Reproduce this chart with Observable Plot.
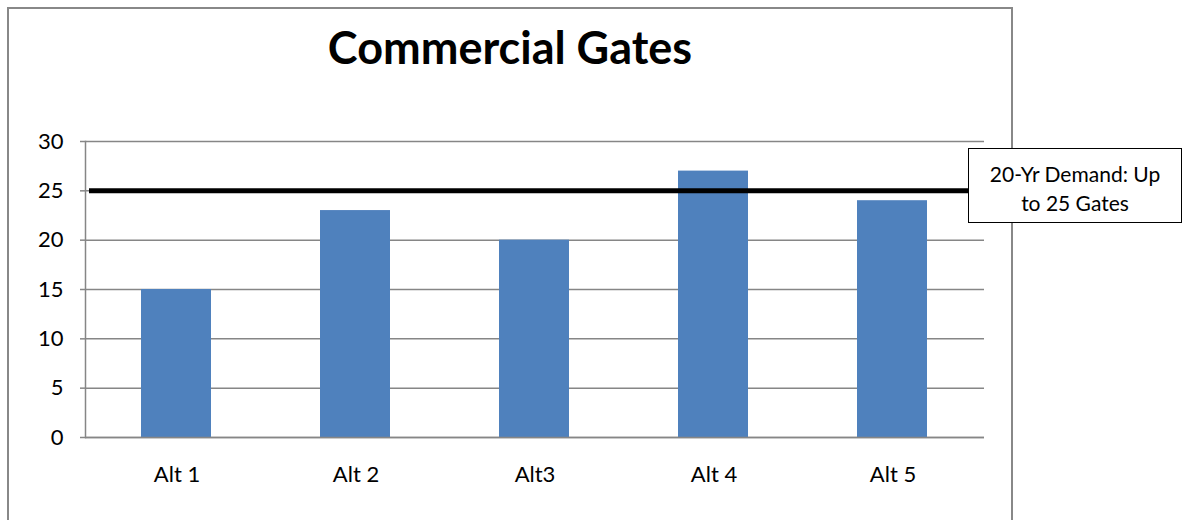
<!DOCTYPE html>
<html>
<head>
<meta charset="utf-8">
<script src="https://cdn.jsdelivr.net/npm/d3@7"></script>
<script src="https://cdn.jsdelivr.net/npm/@observablehq/plot@0.6"></script>
<style>
  html, body { margin: 0; padding: 0; background: #fff; }
  #wrap { position: relative; width: 1184px; height: 520px; overflow: hidden; font-family: Lato, "Open Sans", sans-serif; }
  #border { position: absolute; left: 7px; top: 7px; width: 1006px; height: 600px; border: 2px solid #888; box-sizing: border-box; pointer-events: none; }
  #title { position: absolute; left: 8px; width: 1004px; top: 25px; text-align: center; font-weight: bold; font-size: 45px; line-height: 45px; color: #000; }
  #chart { position: absolute; left: 0; top: 100px; }
  #note { position: absolute; left: 968px; top: 148px; width: 214px; height: 75px; box-sizing: border-box; border: 1.5px solid #000; background: #fff; display: flex; align-items: center; justify-content: center; text-align: center; font-size: 21px; line-height: 29px; color: #000; padding-top: 4px; }
</style>
</head>
<body>
<div id="wrap">
  <div id="title"></div>
  <div id="chart"></div>
  <div id="border"></div>
  <div id="note"></div>
</div>
<script>
const titleText = "Commercial Gates";
const categories = ["Alt 1", "Alt 2", "Alt3", "Alt 4", "Alt 5"];
const gates = [15, 23, 20, 27, 24];
const yTicks = [0, 5, 10, 15, 20, 25, 30];
const demandValue = 25;
const noteLines = ["20-Yr Demand: Up", "to 25 Gates"];

const data = categories.map((c, i) => ({alt: c, gates: gates[i]}));

document.getElementById("title").textContent = titleText;
document.getElementById("note").innerHTML = noteLines.join("<br>");

const chart = Plot.plot({
  width: 1184,
  height: 420,
  marginLeft: 85,
  marginRight: 200,
  marginTop: 41,
  marginBottom: 83,
  style: {background: "transparent", fontFamily: "Lato, 'Open Sans', sans-serif", fontSize: "22px", color: "#000", overflow: "visible"},
  x: {domain: categories, padding: 0, label: null},
  y: {domain: [0, 30], label: null},
  marks: [
    Plot.gridY(yTicks, {stroke: "#868686", strokeOpacity: 1, strokeWidth: 1.5}),
    Plot.barY(data, {x: "alt", y: "gates", fill: "#4F81BD", insetLeft: 54, insetRight: 55}),
    Plot.ruleY([0], {stroke: "#868686", strokeWidth: 1.5}),
    Plot.ruleY([demandValue], {stroke: "#000", strokeWidth: 5, insetLeft: 4, insetRight: 16}),
    Plot.frame({anchor: "left", stroke: "#868686", strokeWidth: 1.5}),
    Plot.axisY(yTicks, {tickSize: 5, tickPadding: 17, stroke: "#868686", strokeWidth: 1.5, fill: "#000", fontSize: 22}),
    Plot.axisX({tickSize: 0, tickPadding: 29, fill: "#000", fontSize: 22})
  ]
});
document.getElementById("chart").appendChild(chart);
</script>
</body>
</html>
